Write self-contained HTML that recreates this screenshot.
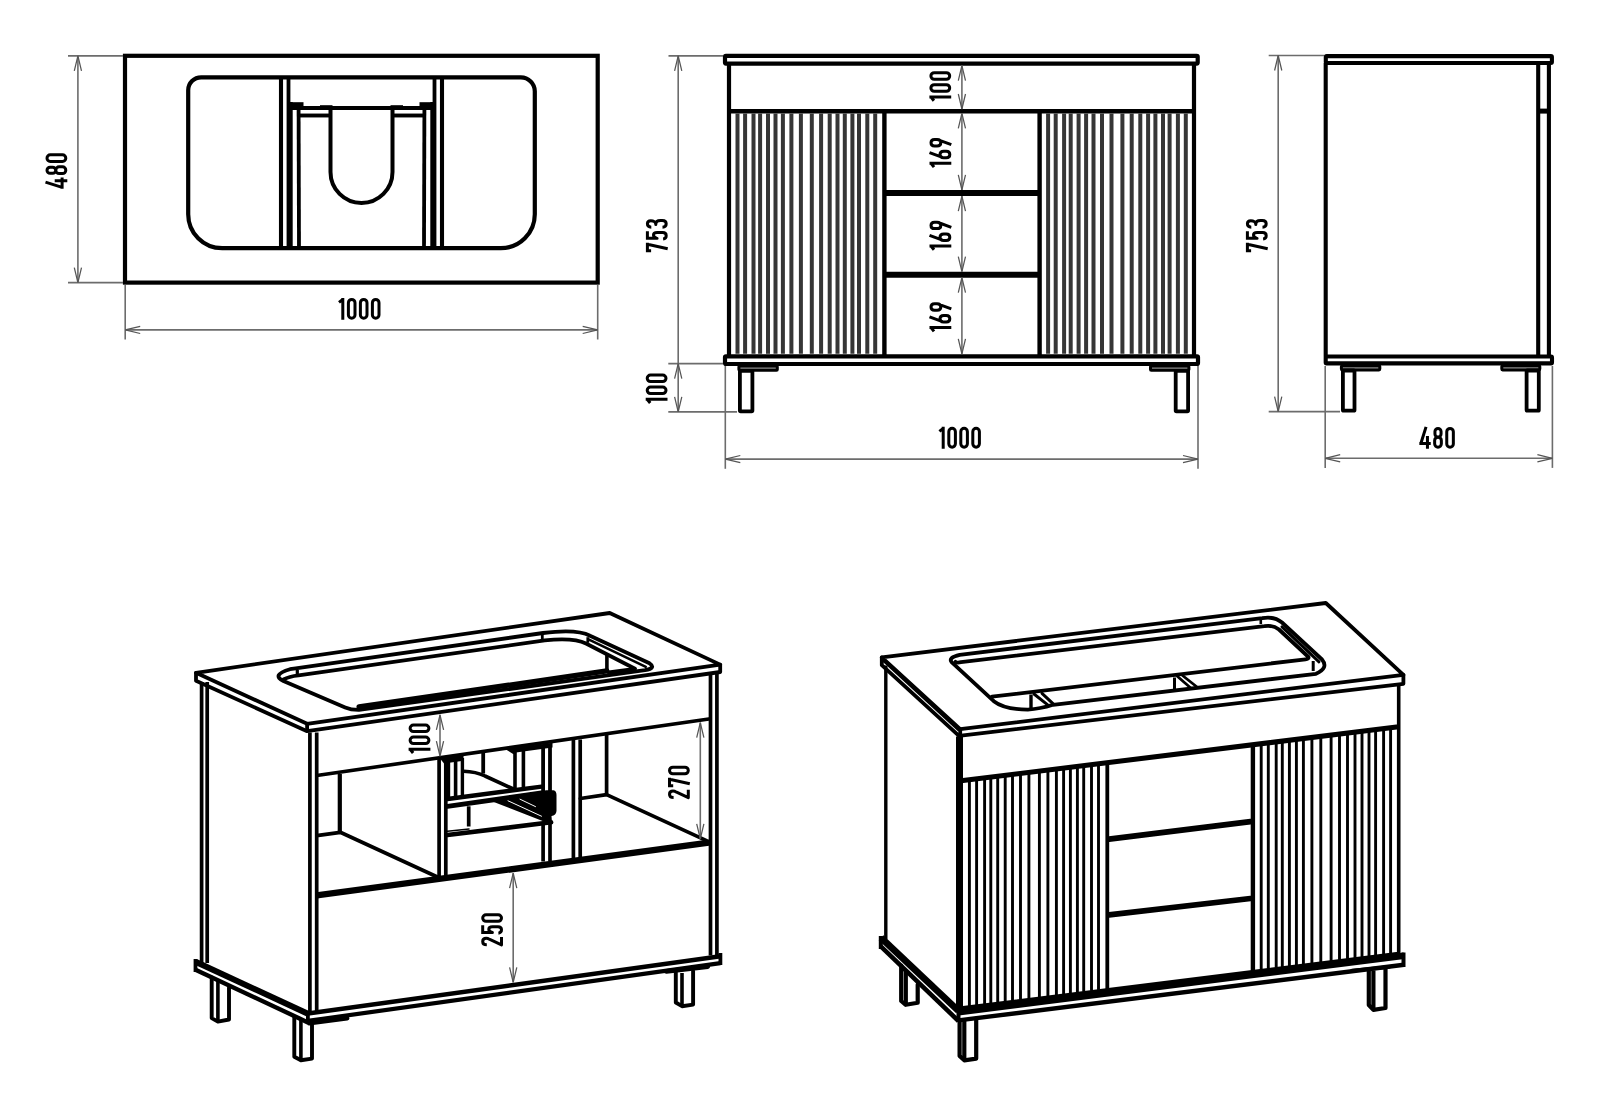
<!DOCTYPE html>
<html><head><meta charset="utf-8"><title>Vanity unit drawing</title>
<style>html,body{margin:0;padding:0;background:#fff;}body{width:1600px;height:1115px;overflow:hidden;font-family:"Liberation Sans",sans-serif;}svg{display:block;}</style></head><body>
<svg width="1600" height="1115" viewBox="0 0 1600 1115">
<rect x="0" y="0" width="1600" height="1115" fill="#fff"/>
<rect x="125" y="55.8" width="472.7" height="226.8" rx="0" fill="none" stroke="#000" stroke-width="4.2"/>
<path d="M201.2,77.3 L520.8,77.3 A14,14 0 0 1 534.8,91.3 L534.8,214.2 A34,34 0 0 1 500.8,248.2 L222.2,248.2 A34,34 0 0 1 188.2,214.2 L188.2,90.3 A13,13 0 0 1 201.2,77.3 Z" fill="none" stroke="#000" stroke-width="4.2" stroke-linejoin="round" stroke-linecap="round"/>
<line x1="281" y1="77.3" x2="281" y2="248.2" stroke="#000" stroke-width="4.1" stroke-linecap="butt"/>
<line x1="288.5" y1="77.3" x2="288.5" y2="248.2" stroke="#000" stroke-width="3.8" stroke-linecap="butt"/>
<line x1="290.2" y1="102" x2="290.2" y2="248.2" stroke="#000" stroke-width="5" stroke-linecap="butt"/>
<line x1="298.6" y1="110" x2="299" y2="248.2" stroke="#000" stroke-width="3.8" stroke-linecap="butt"/>
<line x1="299" y1="115.5" x2="330.5" y2="115.5" stroke="#000" stroke-width="3.9" stroke-linecap="butt"/>
<rect x="290" y="102.2" width="13.5" height="4.8" rx="0" fill="#000" stroke="#000" stroke-width="0"/>
<rect x="320" y="105.2" width="12.5" height="1.8" rx="0" fill="#000" stroke="#000" stroke-width="0"/>
<line x1="442" y1="77.3" x2="442" y2="248.2" stroke="#000" stroke-width="4.1" stroke-linecap="butt"/>
<line x1="434.5" y1="77.3" x2="434.5" y2="248.2" stroke="#000" stroke-width="3.8" stroke-linecap="butt"/>
<line x1="432.8" y1="102" x2="432.8" y2="248.2" stroke="#000" stroke-width="5" stroke-linecap="butt"/>
<line x1="424.4" y1="110" x2="424" y2="248.2" stroke="#000" stroke-width="3.8" stroke-linecap="butt"/>
<line x1="424" y1="115.5" x2="392.5" y2="115.5" stroke="#000" stroke-width="3.9" stroke-linecap="butt"/>
<rect x="419.5" y="102.2" width="13.5" height="4.8" rx="0" fill="#000" stroke="#000" stroke-width="0"/>
<rect x="390.5" y="105.2" width="12.5" height="1.8" rx="0" fill="#000" stroke="#000" stroke-width="0"/>
<line x1="290" y1="108" x2="433" y2="108" stroke="#000" stroke-width="4.2" stroke-linecap="butt"/>
<path d="M330.5,108 L330.5,172 A31,31 0 0 0 392.5,172 L392.5,108" fill="none" stroke="#000" stroke-width="4" stroke-linejoin="round" stroke-linecap="butt"/>
<line x1="68" y1="55.9" x2="123" y2="55.9" stroke="#6c6c6c" stroke-width="1.6"/>
<line x1="68" y1="282.6" x2="123" y2="282.6" stroke="#6c6c6c" stroke-width="1.6"/>
<line x1="77.9" y1="55.9" x2="77.9" y2="282.6" stroke="#6c6c6c" stroke-width="1.6"/>
<path d="M81.5,70.9 L77.9,55.9 L74.3,70.9" fill="none" stroke="#555" stroke-width="1.25" stroke-linejoin="miter" stroke-linecap="butt"/>
<path d="M74.3,267.6 L77.9,282.6 L81.5,267.6" fill="none" stroke="#555" stroke-width="1.25" stroke-linejoin="miter" stroke-linecap="butt"/>
<line x1="125.2" y1="285" x2="125.2" y2="339.5" stroke="#6c6c6c" stroke-width="1.6"/>
<line x1="597.7" y1="285" x2="597.7" y2="339.5" stroke="#6c6c6c" stroke-width="1.6"/>
<line x1="125.2" y1="329.9" x2="597.7" y2="329.9" stroke="#6c6c6c" stroke-width="1.6"/>
<path d="M140.2,326.3 L125.2,329.9 L140.2,333.5" fill="none" stroke="#555" stroke-width="1.25" stroke-linejoin="miter" stroke-linecap="butt"/>
<path d="M582.7,333.5 L597.7,329.9 L582.7,326.3" fill="none" stroke="#555" stroke-width="1.25" stroke-linejoin="miter" stroke-linecap="butt"/>
<g transform="translate(359,308.8) scale(1,1) translate(-21.5,-10.9)" fill="none" stroke="#000" stroke-width="3" stroke-linecap="butt" stroke-linejoin="round"><path transform="translate(0,0)" d="M1.5,4.5 L5.3,1.5 M5.3,0 L5.3,21.8"/><path transform="translate(9.4,0)" d="M1.5,4.8 A3.3,3.3 0 0 1 8.1,4.8 L8.1,17 A3.3,3.3 0 0 1 1.5,17 Z"/><path transform="translate(21.4,0)" d="M1.5,4.8 A3.3,3.3 0 0 1 8.1,4.8 L8.1,17 A3.3,3.3 0 0 1 1.5,17 Z"/><path transform="translate(33.4,0)" d="M1.5,4.8 A3.3,3.3 0 0 1 8.1,4.8 L8.1,17 A3.3,3.3 0 0 1 1.5,17 Z"/></g>
<g transform="translate(56.4,171.1) rotate(-90) scale(1,1) translate(-17.75,-10.9)" fill="none" stroke="#000" stroke-width="3" stroke-linecap="butt" stroke-linejoin="round"><path transform="translate(0,0)" d="M6.7,0 L1.5,16.6 M0,16.6 L11.4,16.6 M8.1,9.2 L8.1,21.8"/><path transform="translate(13.8,0)" d="M1.8,4.55 A3.05,3.05 0 0 1 7.9,4.55 L7.9,7.15 A3.05,3.05 0 0 1 1.8,7.15 Z M1.5,13.65 A3.35,3.35 0 0 1 8.2,13.65 L8.2,16.95 A3.35,3.35 0 0 1 1.5,16.95 Z"/><path transform="translate(25.9,0)" d="M1.5,4.8 A3.3,3.3 0 0 1 8.1,4.8 L8.1,17 A3.3,3.3 0 0 1 1.5,17 Z"/></g>
<rect x="725" y="55.8" width="472.7" height="7.8" rx="1" fill="none" stroke="#000" stroke-width="4.2"/>
<line x1="729" y1="63.6" x2="729" y2="355.8" stroke="#000" stroke-width="4.2" stroke-linecap="butt"/>
<line x1="1194" y1="63.6" x2="1194" y2="355.8" stroke="#000" stroke-width="4.2" stroke-linecap="butt"/>
<line x1="729" y1="111.2" x2="1194" y2="111.2" stroke="#000" stroke-width="4.4" stroke-linecap="butt"/>
<line x1="884.4" y1="111.2" x2="884.4" y2="355.8" stroke="#000" stroke-width="4.4" stroke-linecap="butt"/>
<line x1="1039.6" y1="111.2" x2="1039.6" y2="355.8" stroke="#000" stroke-width="4.4" stroke-linecap="butt"/>
<line x1="884.4" y1="193" x2="1039.6" y2="193" stroke="#000" stroke-width="6.2" stroke-linecap="butt"/>
<line x1="884.4" y1="274.7" x2="1039.6" y2="274.7" stroke="#000" stroke-width="6" stroke-linecap="butt"/>
<line x1="737.5" y1="113.5" x2="737.5" y2="353.8" stroke="#363636" stroke-width="4" stroke-linecap="butt"/>
<line x1="745.1" y1="113.5" x2="745.1" y2="353.8" stroke="#363636" stroke-width="4" stroke-linecap="butt"/>
<line x1="753.5" y1="113.5" x2="753.5" y2="353.8" stroke="#363636" stroke-width="4" stroke-linecap="butt"/>
<line x1="760.1" y1="113.5" x2="760.1" y2="353.8" stroke="#363636" stroke-width="4" stroke-linecap="butt"/>
<line x1="768" y1="113.5" x2="768" y2="353.8" stroke="#363636" stroke-width="4" stroke-linecap="butt"/>
<line x1="775.5" y1="113.5" x2="775.5" y2="353.8" stroke="#363636" stroke-width="4" stroke-linecap="butt"/>
<line x1="782.9" y1="113.5" x2="782.9" y2="353.8" stroke="#363636" stroke-width="4" stroke-linecap="butt"/>
<line x1="791.4" y1="113.5" x2="791.4" y2="353.8" stroke="#363636" stroke-width="4" stroke-linecap="butt"/>
<line x1="800.9" y1="113.5" x2="800.9" y2="353.8" stroke="#363636" stroke-width="4" stroke-linecap="butt"/>
<line x1="811.8" y1="113.5" x2="811.8" y2="353.8" stroke="#363636" stroke-width="4" stroke-linecap="butt"/>
<line x1="821.1" y1="113.5" x2="821.1" y2="353.8" stroke="#363636" stroke-width="4" stroke-linecap="butt"/>
<line x1="829.7" y1="113.5" x2="829.7" y2="353.8" stroke="#363636" stroke-width="4" stroke-linecap="butt"/>
<line x1="837.5" y1="113.5" x2="837.5" y2="353.8" stroke="#363636" stroke-width="4" stroke-linecap="butt"/>
<line x1="844.8" y1="113.5" x2="844.8" y2="353.8" stroke="#363636" stroke-width="4" stroke-linecap="butt"/>
<line x1="852.4" y1="113.5" x2="852.4" y2="353.8" stroke="#363636" stroke-width="4" stroke-linecap="butt"/>
<line x1="859" y1="113.5" x2="859" y2="353.8" stroke="#363636" stroke-width="4" stroke-linecap="butt"/>
<line x1="867.3" y1="113.5" x2="867.3" y2="353.8" stroke="#363636" stroke-width="4" stroke-linecap="butt"/>
<line x1="875.2" y1="113.5" x2="875.2" y2="353.8" stroke="#363636" stroke-width="4" stroke-linecap="butt"/>
<line x1="1048.1" y1="113.5" x2="1048.1" y2="353.8" stroke="#363636" stroke-width="4" stroke-linecap="butt"/>
<line x1="1055.7" y1="113.5" x2="1055.7" y2="353.8" stroke="#363636" stroke-width="4" stroke-linecap="butt"/>
<line x1="1064.1" y1="113.5" x2="1064.1" y2="353.8" stroke="#363636" stroke-width="4" stroke-linecap="butt"/>
<line x1="1070.7" y1="113.5" x2="1070.7" y2="353.8" stroke="#363636" stroke-width="4" stroke-linecap="butt"/>
<line x1="1078.6" y1="113.5" x2="1078.6" y2="353.8" stroke="#363636" stroke-width="4" stroke-linecap="butt"/>
<line x1="1086.1" y1="113.5" x2="1086.1" y2="353.8" stroke="#363636" stroke-width="4" stroke-linecap="butt"/>
<line x1="1093.5" y1="113.5" x2="1093.5" y2="353.8" stroke="#363636" stroke-width="4" stroke-linecap="butt"/>
<line x1="1102" y1="113.5" x2="1102" y2="353.8" stroke="#363636" stroke-width="4" stroke-linecap="butt"/>
<line x1="1111.5" y1="113.5" x2="1111.5" y2="353.8" stroke="#363636" stroke-width="4" stroke-linecap="butt"/>
<line x1="1122.4" y1="113.5" x2="1122.4" y2="353.8" stroke="#363636" stroke-width="4" stroke-linecap="butt"/>
<line x1="1131.7" y1="113.5" x2="1131.7" y2="353.8" stroke="#363636" stroke-width="4" stroke-linecap="butt"/>
<line x1="1140.3" y1="113.5" x2="1140.3" y2="353.8" stroke="#363636" stroke-width="4" stroke-linecap="butt"/>
<line x1="1148.1" y1="113.5" x2="1148.1" y2="353.8" stroke="#363636" stroke-width="4" stroke-linecap="butt"/>
<line x1="1155.4" y1="113.5" x2="1155.4" y2="353.8" stroke="#363636" stroke-width="4" stroke-linecap="butt"/>
<line x1="1163" y1="113.5" x2="1163" y2="353.8" stroke="#363636" stroke-width="4" stroke-linecap="butt"/>
<line x1="1169.6" y1="113.5" x2="1169.6" y2="353.8" stroke="#363636" stroke-width="4" stroke-linecap="butt"/>
<line x1="1177.9" y1="113.5" x2="1177.9" y2="353.8" stroke="#363636" stroke-width="4" stroke-linecap="butt"/>
<line x1="1185.8" y1="113.5" x2="1185.8" y2="353.8" stroke="#363636" stroke-width="4" stroke-linecap="butt"/>
<rect x="725" y="356.3" width="473" height="7.7" rx="1" fill="none" stroke="#000" stroke-width="4.2"/>
<rect x="738.9" y="365.9" width="38.4" height="4.3" rx="0.8" fill="#8a8a8a" stroke="#000" stroke-width="3"/>
<rect x="739.9" y="370.8" width="12.5" height="40.5" rx="0.8" fill="none" stroke="#000" stroke-width="3.8"/>
<rect x="1150.5" y="365.9" width="38.4" height="4.3" rx="0.8" fill="#8a8a8a" stroke="#000" stroke-width="3"/>
<rect x="1175.7" y="370.8" width="12.4" height="40.5" rx="0.8" fill="none" stroke="#000" stroke-width="3.8"/>
<line x1="668.5" y1="55.9" x2="723" y2="55.9" stroke="#6c6c6c" stroke-width="1.6"/>
<line x1="668.3" y1="363.6" x2="723" y2="363.6" stroke="#6c6c6c" stroke-width="1.6"/>
<line x1="668.3" y1="411.9" x2="737" y2="411.9" stroke="#6c6c6c" stroke-width="1.6"/>
<line x1="678.2" y1="55.9" x2="678.2" y2="363.6" stroke="#6c6c6c" stroke-width="1.6"/>
<path d="M681.8,70.9 L678.2,55.9 L674.6,70.9" fill="none" stroke="#555" stroke-width="1.25" stroke-linejoin="miter" stroke-linecap="butt"/>
<line x1="678.2" y1="363.6" x2="678.2" y2="411.9" stroke="#6c6c6c" stroke-width="1.6"/>
<path d="M681.8,378.6 L678.2,363.6 L674.6,378.6" fill="none" stroke="#555" stroke-width="1.25" stroke-linejoin="miter" stroke-linecap="butt"/>
<path d="M674.6,396.9 L678.2,411.9 L681.8,396.9" fill="none" stroke="#555" stroke-width="1.25" stroke-linejoin="miter" stroke-linecap="butt"/>
<line x1="725.3" y1="366" x2="725.3" y2="468.8" stroke="#6c6c6c" stroke-width="1.6"/>
<line x1="1198" y1="366" x2="1198" y2="468.8" stroke="#6c6c6c" stroke-width="1.6"/>
<line x1="725.3" y1="459.1" x2="1198" y2="459.1" stroke="#6c6c6c" stroke-width="1.6"/>
<path d="M740.3,455.5 L725.3,459.1 L740.3,462.7" fill="none" stroke="#555" stroke-width="1.25" stroke-linejoin="miter" stroke-linecap="butt"/>
<path d="M1183,462.7 L1198,459.1 L1183,455.5" fill="none" stroke="#555" stroke-width="1.25" stroke-linejoin="miter" stroke-linecap="butt"/>
<line x1="961.9" y1="65.6" x2="961.9" y2="109" stroke="#6c6c6c" stroke-width="1.6"/>
<path d="M965.5,80.6 L961.9,65.6 L958.3,80.6" fill="none" stroke="#555" stroke-width="1.25" stroke-linejoin="miter" stroke-linecap="butt"/>
<path d="M958.3,94 L961.9,109 L965.5,94" fill="none" stroke="#555" stroke-width="1.25" stroke-linejoin="miter" stroke-linecap="butt"/>
<line x1="961.9" y1="113.4" x2="961.9" y2="189.9" stroke="#6c6c6c" stroke-width="1.6"/>
<path d="M965.5,128.4 L961.9,113.4 L958.3,128.4" fill="none" stroke="#555" stroke-width="1.25" stroke-linejoin="miter" stroke-linecap="butt"/>
<path d="M958.3,174.9 L961.9,189.9 L965.5,174.9" fill="none" stroke="#555" stroke-width="1.25" stroke-linejoin="miter" stroke-linecap="butt"/>
<line x1="961.9" y1="196.1" x2="961.9" y2="271.7" stroke="#6c6c6c" stroke-width="1.6"/>
<path d="M965.5,211.1 L961.9,196.1 L958.3,211.1" fill="none" stroke="#555" stroke-width="1.25" stroke-linejoin="miter" stroke-linecap="butt"/>
<path d="M958.3,256.7 L961.9,271.7 L965.5,256.7" fill="none" stroke="#555" stroke-width="1.25" stroke-linejoin="miter" stroke-linecap="butt"/>
<line x1="961.9" y1="277.7" x2="961.9" y2="353.8" stroke="#6c6c6c" stroke-width="1.6"/>
<path d="M965.5,292.7 L961.9,277.7 L958.3,292.7" fill="none" stroke="#555" stroke-width="1.25" stroke-linejoin="miter" stroke-linecap="butt"/>
<path d="M958.3,338.8 L961.9,353.8 L965.5,338.8" fill="none" stroke="#555" stroke-width="1.25" stroke-linejoin="miter" stroke-linecap="butt"/>
<g transform="translate(656.8,235.7) rotate(-90) scale(1,1) translate(-16.65,-10.9)" fill="none" stroke="#000" stroke-width="3" stroke-linecap="butt" stroke-linejoin="round"><path transform="translate(0,0)" d="M0,1.5 L9.6,1.5 M1.5,0 L1.5,5.2 M8.1,1.5 L3.6,21.8"/><path transform="translate(12,0)" d="M9.2,1.5 L2.0,1.5 M2.0,0 L2.0,11.2 C2.6,8.8 3.9,7.6 5.3,7.6 C7.1,7.6 7.8,9.1 7.8,11.3 L7.8,16.8 C7.8,19.0 6.6,20.3 4.7,20.3 C2.8,20.3 1.6,19.2 1.4,17.2"/><path transform="translate(23.7,0)" d="M1.5,5.4 C1.5,2.9 3.0,1.5 4.8,1.5 C6.7,1.5 7.9,2.8 7.9,4.9 C7.9,7.6 6.5,9.9 4.2,9.9 C6.8,9.9 8.1,11.8 8.1,14.6 L8.1,16.4 C8.1,18.9 6.7,20.3 4.8,20.3 C2.8,20.3 1.5,19.0 1.4,16.6"/></g>
<g transform="translate(656.6,389) rotate(-90) scale(1,1) translate(-15.5,-10.9)" fill="none" stroke="#000" stroke-width="3" stroke-linecap="butt" stroke-linejoin="round"><path transform="translate(0,0)" d="M1.5,4.5 L5.3,1.5 M5.3,0 L5.3,21.8"/><path transform="translate(9.4,0)" d="M1.5,4.8 A3.3,3.3 0 0 1 8.1,4.8 L8.1,17 A3.3,3.3 0 0 1 1.5,17 Z"/><path transform="translate(21.4,0)" d="M1.5,4.8 A3.3,3.3 0 0 1 8.1,4.8 L8.1,17 A3.3,3.3 0 0 1 1.5,17 Z"/></g>
<g transform="translate(959.4,437.75) scale(1,1) translate(-21.5,-10.9)" fill="none" stroke="#000" stroke-width="3" stroke-linecap="butt" stroke-linejoin="round"><path transform="translate(0,0)" d="M1.5,4.5 L5.3,1.5 M5.3,0 L5.3,21.8"/><path transform="translate(9.4,0)" d="M1.5,4.8 A3.3,3.3 0 0 1 8.1,4.8 L8.1,17 A3.3,3.3 0 0 1 1.5,17 Z"/><path transform="translate(21.4,0)" d="M1.5,4.8 A3.3,3.3 0 0 1 8.1,4.8 L8.1,17 A3.3,3.3 0 0 1 1.5,17 Z"/><path transform="translate(33.4,0)" d="M1.5,4.8 A3.3,3.3 0 0 1 8.1,4.8 L8.1,17 A3.3,3.3 0 0 1 1.5,17 Z"/></g>
<g transform="translate(940.3,86.7) rotate(-90) scale(1,1) translate(-15.5,-10.9)" fill="none" stroke="#000" stroke-width="3" stroke-linecap="butt" stroke-linejoin="round"><path transform="translate(0,0)" d="M1.5,4.5 L5.3,1.5 M5.3,0 L5.3,21.8"/><path transform="translate(9.4,0)" d="M1.5,4.8 A3.3,3.3 0 0 1 8.1,4.8 L8.1,17 A3.3,3.3 0 0 1 1.5,17 Z"/><path transform="translate(21.4,0)" d="M1.5,4.8 A3.3,3.3 0 0 1 8.1,4.8 L8.1,17 A3.3,3.3 0 0 1 1.5,17 Z"/></g>
<g transform="translate(940.4,153.3) rotate(-90) scale(1,1) translate(-15.3,-10.9)" fill="none" stroke="#000" stroke-width="3" stroke-linecap="butt" stroke-linejoin="round"><path transform="translate(0,0)" d="M1.5,4.5 L5.3,1.5 M5.3,0 L5.3,21.8"/><path transform="translate(9.4,0)" d="M1.5,14.2 C1.5,11.9 2.9,10.5 4.7,10.5 C6.5,10.5 7.9,11.9 7.9,14.2 L7.9,16.8 C7.9,19.0 6.5,20.3 4.7,20.3 C2.9,20.3 1.5,19.0 1.5,16.8 Z M1.8,13.0 L6.6,0"/><path transform="translate(21.2,0)" d="M7.9,7.6 C7.9,9.9 6.5,11.3 4.7,11.3 C2.9,11.3 1.5,9.9 1.5,7.6 L1.5,5.0 C1.5,2.8 2.9,1.5 4.7,1.5 C6.5,1.5 7.9,2.8 7.9,5.0 Z M7.6,8.8 L2.8,21.8"/></g>
<g transform="translate(940.4,236) rotate(-90) scale(1,1) translate(-15.3,-10.9)" fill="none" stroke="#000" stroke-width="3" stroke-linecap="butt" stroke-linejoin="round"><path transform="translate(0,0)" d="M1.5,4.5 L5.3,1.5 M5.3,0 L5.3,21.8"/><path transform="translate(9.4,0)" d="M1.5,14.2 C1.5,11.9 2.9,10.5 4.7,10.5 C6.5,10.5 7.9,11.9 7.9,14.2 L7.9,16.8 C7.9,19.0 6.5,20.3 4.7,20.3 C2.9,20.3 1.5,19.0 1.5,16.8 Z M1.8,13.0 L6.6,0"/><path transform="translate(21.2,0)" d="M7.9,7.6 C7.9,9.9 6.5,11.3 4.7,11.3 C2.9,11.3 1.5,9.9 1.5,7.6 L1.5,5.0 C1.5,2.8 2.9,1.5 4.7,1.5 C6.5,1.5 7.9,2.8 7.9,5.0 Z M7.6,8.8 L2.8,21.8"/></g>
<g transform="translate(940.4,317.6) rotate(-90) scale(1,1) translate(-15.3,-10.9)" fill="none" stroke="#000" stroke-width="3" stroke-linecap="butt" stroke-linejoin="round"><path transform="translate(0,0)" d="M1.5,4.5 L5.3,1.5 M5.3,0 L5.3,21.8"/><path transform="translate(9.4,0)" d="M1.5,14.2 C1.5,11.9 2.9,10.5 4.7,10.5 C6.5,10.5 7.9,11.9 7.9,14.2 L7.9,16.8 C7.9,19.0 6.5,20.3 4.7,20.3 C2.9,20.3 1.5,19.0 1.5,16.8 Z M1.8,13.0 L6.6,0"/><path transform="translate(21.2,0)" d="M7.9,7.6 C7.9,9.9 6.5,11.3 4.7,11.3 C2.9,11.3 1.5,9.9 1.5,7.6 L1.5,5.0 C1.5,2.8 2.9,1.5 4.7,1.5 C6.5,1.5 7.9,2.8 7.9,5.0 Z M7.6,8.8 L2.8,21.8"/></g>
<rect x="1325.8" y="56.1" width="226.1" height="6.9" rx="1" fill="none" stroke="#000" stroke-width="4.1"/>
<line x1="1325.7" y1="63" x2="1325.7" y2="356.5" stroke="#000" stroke-width="4.1" stroke-linecap="butt"/>
<line x1="1538.2" y1="63" x2="1538.2" y2="356.5" stroke="#000" stroke-width="4.1" stroke-linecap="butt"/>
<line x1="1548.9" y1="63" x2="1548.9" y2="356.5" stroke="#000" stroke-width="4.1" stroke-linecap="butt"/>
<line x1="1538.2" y1="111.1" x2="1548.9" y2="111.1" stroke="#000" stroke-width="5" stroke-linecap="butt"/>
<rect x="1325.7" y="356.5" width="226.3" height="6.9" rx="1" fill="none" stroke="#000" stroke-width="4.1"/>
<rect x="1341.4" y="365.8" width="38.4" height="4.1" rx="0.8" fill="#8a8a8a" stroke="#000" stroke-width="3"/>
<rect x="1342.9" y="370.5" width="11.6" height="40.2" rx="0.8" fill="none" stroke="#000" stroke-width="3.8"/>
<rect x="1501.8" y="365.8" width="38" height="4.1" rx="0.8" fill="#8a8a8a" stroke="#000" stroke-width="3"/>
<rect x="1526.6" y="370.5" width="12.2" height="40.2" rx="0.8" fill="none" stroke="#000" stroke-width="3.8"/>
<line x1="1268.7" y1="55.5" x2="1324" y2="55.5" stroke="#6c6c6c" stroke-width="1.6"/>
<line x1="1268.7" y1="411.6" x2="1340" y2="411.6" stroke="#6c6c6c" stroke-width="1.6"/>
<line x1="1278.2" y1="55.5" x2="1278.2" y2="411.6" stroke="#6c6c6c" stroke-width="1.6"/>
<path d="M1281.8,70.5 L1278.2,55.5 L1274.6,70.5" fill="none" stroke="#555" stroke-width="1.25" stroke-linejoin="miter" stroke-linecap="butt"/>
<path d="M1274.6,396.6 L1278.2,411.6 L1281.8,396.6" fill="none" stroke="#555" stroke-width="1.25" stroke-linejoin="miter" stroke-linecap="butt"/>
<line x1="1325.2" y1="366" x2="1325.2" y2="467.9" stroke="#6c6c6c" stroke-width="1.6"/>
<line x1="1552.4" y1="366" x2="1552.4" y2="467.9" stroke="#6c6c6c" stroke-width="1.6"/>
<line x1="1325.2" y1="458.3" x2="1552.4" y2="458.3" stroke="#6c6c6c" stroke-width="1.6"/>
<path d="M1340.2,454.7 L1325.2,458.3 L1340.2,461.9" fill="none" stroke="#555" stroke-width="1.25" stroke-linejoin="miter" stroke-linecap="butt"/>
<path d="M1537.4,461.9 L1552.4,458.3 L1537.4,454.7" fill="none" stroke="#555" stroke-width="1.25" stroke-linejoin="miter" stroke-linecap="butt"/>
<g transform="translate(1256.8,235.7) rotate(-90) scale(1,1) translate(-16.65,-10.9)" fill="none" stroke="#000" stroke-width="3" stroke-linecap="butt" stroke-linejoin="round"><path transform="translate(0,0)" d="M0,1.5 L9.6,1.5 M1.5,0 L1.5,5.2 M8.1,1.5 L3.6,21.8"/><path transform="translate(12,0)" d="M9.2,1.5 L2.0,1.5 M2.0,0 L2.0,11.2 C2.6,8.8 3.9,7.6 5.3,7.6 C7.1,7.6 7.8,9.1 7.8,11.3 L7.8,16.8 C7.8,19.0 6.6,20.3 4.7,20.3 C2.8,20.3 1.6,19.2 1.4,17.2"/><path transform="translate(23.7,0)" d="M1.5,5.4 C1.5,2.9 3.0,1.5 4.8,1.5 C6.7,1.5 7.9,2.8 7.9,4.9 C7.9,7.6 6.5,9.9 4.2,9.9 C6.8,9.9 8.1,11.8 8.1,14.6 L8.1,16.4 C8.1,18.9 6.7,20.3 4.8,20.3 C2.8,20.3 1.5,19.0 1.4,16.6"/></g>
<g transform="translate(1437.1,437.8) scale(1,1) translate(-17.75,-10.9)" fill="none" stroke="#000" stroke-width="3" stroke-linecap="butt" stroke-linejoin="round"><path transform="translate(0,0)" d="M6.7,0 L1.5,16.6 M0,16.6 L11.4,16.6 M8.1,9.2 L8.1,21.8"/><path transform="translate(13.8,0)" d="M1.8,4.55 A3.05,3.05 0 0 1 7.9,4.55 L7.9,7.15 A3.05,3.05 0 0 1 1.8,7.15 Z M1.5,13.65 A3.35,3.35 0 0 1 8.2,13.65 L8.2,16.95 A3.35,3.35 0 0 1 1.5,16.95 Z"/><path transform="translate(25.9,0)" d="M1.5,4.8 A3.3,3.3 0 0 1 8.1,4.8 L8.1,17 A3.3,3.3 0 0 1 1.5,17 Z"/></g>
<path d="M196,672.8 L609.7,613 L720.2,664.6 L307.1,723.8 Z" fill="none" stroke="#000" stroke-width="3.8" stroke-linejoin="round" stroke-linecap="round"/>
<path d="M196,672.8 L196,680.8 L307.1,731.2 L720.2,672 L720.2,664.6" fill="none" stroke="#000" stroke-width="3.8" stroke-linejoin="round" stroke-linecap="round"/>
<line x1="307.1" y1="723.8" x2="307.1" y2="731.2" stroke="#000" stroke-width="3.8" stroke-linecap="butt"/>
<path d="M295.7,668.4 L543.1,633.0 Q577,628.8 590,635.7 L649.5,663.2 Q656.5,668 645,670.2 L359,709.9 Q351,710 345.2,707.5 L283.4,681.0 Q271,675 290,669.2 Z" fill="none" stroke="#000" stroke-width="3.8" stroke-linejoin="round" stroke-linecap="round"/>
<path d="M589,639.6 L645.8,666.8" fill="none" stroke="#000" stroke-width="2.6" stroke-linejoin="round" stroke-linecap="round"/>
<path d="M283.5,679.5 Q289,676.3 298.5,675.3 L544.7,640.4 Q574,637.5 586,643.5 L635,668.8 L608.8,672.4" fill="none" stroke="#000" stroke-width="3.8" stroke-linejoin="round" stroke-linecap="round"/>
<line x1="297.3" y1="670" x2="297.3" y2="675" stroke="#000" stroke-width="3.2" stroke-linecap="butt"/>
<path d="M606.9,670.9 L359,706.9" fill="none" stroke="#000" stroke-width="5.2" stroke-linejoin="round" stroke-linecap="round"/>
<line x1="542.3" y1="632.8" x2="542.3" y2="639.8" stroke="#000" stroke-width="2.8" stroke-linecap="butt"/>
<line x1="587.8" y1="637.2" x2="587.8" y2="642.8" stroke="#000" stroke-width="2.8" stroke-linecap="butt"/>
<line x1="606.9" y1="653.8" x2="606.9" y2="672.4" stroke="#000" stroke-width="3.6" stroke-linecap="butt"/>
<line x1="201.6" y1="682" x2="201.6" y2="963" stroke="#000" stroke-width="3.7" stroke-linecap="butt"/>
<line x1="207.2" y1="682" x2="207.2" y2="963" stroke="#000" stroke-width="3.7" stroke-linecap="butt"/>
<line x1="309.9" y1="732.5" x2="309.9" y2="1013" stroke="#000" stroke-width="3.7" stroke-linecap="butt"/>
<line x1="316.7" y1="732.5" x2="316.7" y2="1012" stroke="#000" stroke-width="3.7" stroke-linecap="butt"/>
<line x1="710.5" y1="674" x2="710.5" y2="955.5" stroke="#000" stroke-width="3.7" stroke-linecap="butt"/>
<line x1="716.9" y1="674" x2="716.9" y2="955.5" stroke="#000" stroke-width="3.7" stroke-linecap="butt"/>
<path d="M318.5,775.2 L708.8,719" fill="none" stroke="#000" stroke-width="3.6" stroke-linejoin="round" stroke-linecap="round"/>
<path d="M318.5,895.2 L708.8,842.6" fill="none" stroke="#000" stroke-width="6.4" stroke-linejoin="round" stroke-linecap="round"/>
<line x1="339.8" y1="774" x2="339.8" y2="832.5" stroke="#000" stroke-width="4.2" stroke-linecap="butt"/>
<path d="M318.5,835.4 L340.3,832.3 L438.5,877.5" fill="none" stroke="#000" stroke-width="3.7" stroke-linejoin="round" stroke-linecap="round"/>
<line x1="439.1" y1="758" x2="439.1" y2="878" stroke="#000" stroke-width="3.7" stroke-linecap="butt"/>
<line x1="445.8" y1="758" x2="445.8" y2="877" stroke="#000" stroke-width="3.7" stroke-linecap="butt"/>
<line x1="573.4" y1="740" x2="573.4" y2="858" stroke="#000" stroke-width="3.7" stroke-linecap="butt"/>
<line x1="580.2" y1="739.5" x2="580.2" y2="857.5" stroke="#000" stroke-width="3.7" stroke-linecap="butt"/>
<line x1="606.6" y1="735" x2="606.6" y2="795.2" stroke="#000" stroke-width="3.7" stroke-linecap="butt"/>
<path d="M580.3,798.5 L606.6,794.6 L706.5,840.6" fill="none" stroke="#000" stroke-width="3.7" stroke-linejoin="round" stroke-linecap="round"/>
<path d="M440,758.5 L463.5,755.2 L463.5,760.8 L444,763.5 Z" fill="#000"/>
<line x1="448.4" y1="762" x2="448.4" y2="801" stroke="#000" stroke-width="3.6" stroke-linecap="butt"/>
<line x1="455.6" y1="761" x2="455.6" y2="800" stroke="#000" stroke-width="3.6" stroke-linecap="butt"/>
<line x1="462.4" y1="758" x2="462.4" y2="798" stroke="#000" stroke-width="3.4" stroke-linecap="butt"/>
<path d="M463.6,771.2 Q476,771.5 485,776 L513.4,789" fill="none" stroke="#000" stroke-width="3.6" stroke-linejoin="round" stroke-linecap="round"/>
<line x1="483.2" y1="751.5" x2="483.2" y2="773.6" stroke="#000" stroke-width="3.8" stroke-linecap="butt"/>
<path d="M505.5,749.2 L552.5,742.8 L552.5,747.5 L516,752.6 L513.5,754.2 Z" fill="#000"/>
<line x1="515" y1="750" x2="515" y2="788" stroke="#000" stroke-width="3.6" stroke-linecap="butt"/>
<line x1="523.4" y1="750" x2="523.4" y2="787" stroke="#000" stroke-width="3.6" stroke-linecap="butt"/>
<line x1="543.1" y1="746" x2="543.1" y2="798.5" stroke="#000" stroke-width="3.8" stroke-linecap="butt"/>
<line x1="550" y1="744.5" x2="550" y2="798" stroke="#000" stroke-width="3.8" stroke-linecap="butt"/>
<path d="M447.5,799 L541.5,786.6" fill="none" stroke="#000" stroke-width="4.4" stroke-linejoin="round" stroke-linecap="round"/>
<path d="M447.5,806.4 L541.5,793" fill="none" stroke="#000" stroke-width="4.8" stroke-linejoin="round" stroke-linecap="round"/>
<path d="M492.5,801.5 L541.5,794.0 L545.5,790.2 L553.5,790.2 Q556.5,791 556.5,795 L556.5,811 Q556,815.5 551.5,816 L552,822.5 L549,823.6 Z" fill="#000"/>
<path d="M508,800.8 L541.5,816.2" fill="none" stroke="#fff" stroke-width="1" stroke-linejoin="round" stroke-linecap="round"/>
<path d="M520,799.2 L535.5,806.6" fill="none" stroke="#fff" stroke-width="1" stroke-linejoin="round" stroke-linecap="round"/>
<line x1="468.7" y1="806.3" x2="468.7" y2="826.5" stroke="#000" stroke-width="3.7" stroke-linecap="butt"/>
<path d="M447.5,835 L551.1,822.3" fill="none" stroke="#000" stroke-width="4.6" stroke-linejoin="round" stroke-linecap="round"/>
<path d="M447.5,831.3 L469,829" fill="none" stroke="#000" stroke-width="1.6" stroke-linejoin="round" stroke-linecap="round"/>
<line x1="543.1" y1="823.8" x2="543.1" y2="861.5" stroke="#000" stroke-width="3.7" stroke-linecap="butt"/>
<line x1="550" y1="823.5" x2="550" y2="861" stroke="#000" stroke-width="3.7" stroke-linecap="butt"/>
<path d="M195.5,961.7 L307.9,1013.8" fill="none" stroke="#000" stroke-width="6" stroke-linejoin="round" stroke-linecap="butt"/>
<path d="M195.5,969.8 L307.9,1022.4" fill="none" stroke="#000" stroke-width="4.4" stroke-linejoin="round" stroke-linecap="butt"/>
<path d="M307.9,1013.5 L720.4,956.3" fill="none" stroke="#000" stroke-width="4.6" stroke-linejoin="round" stroke-linecap="butt"/>
<path d="M307.9,1020.9 L720.4,963.2" fill="none" stroke="#000" stroke-width="4.2" stroke-linejoin="round" stroke-linecap="butt"/>
<line x1="195.5" y1="959" x2="195.5" y2="972" stroke="#000" stroke-width="3.8" stroke-linecap="butt"/>
<line x1="307.9" y1="1011" x2="307.9" y2="1024" stroke="#000" stroke-width="3.8" stroke-linecap="butt"/>
<line x1="720.4" y1="953" x2="720.4" y2="965" stroke="#000" stroke-width="3.8" stroke-linecap="butt"/>
<path d="M309,1023.3 L347.2,1018.4" fill="none" stroke="#000" stroke-width="4.4" stroke-linejoin="round" stroke-linecap="round"/>
<path d="M666.4,971.4 L707.8,966.6" fill="none" stroke="#000" stroke-width="4.6" stroke-linejoin="round" stroke-linecap="round"/>
<path d="M211.7,977.5 L211.7,1018.1 L217.9,1021.6 L229,1019.5 L229,987.5" fill="none" stroke="#000" stroke-width="3.9" stroke-linejoin="round" stroke-linecap="round"/>
<line x1="217.9" y1="980" x2="217.9" y2="1021.6" stroke="#000" stroke-width="3.6" stroke-linecap="butt"/>
<path d="M294.3,1017 L294.3,1056.8 L300.9,1060.3 L312,1058.6 L312,1024.5" fill="none" stroke="#000" stroke-width="3.9" stroke-linejoin="round" stroke-linecap="round"/>
<line x1="300.9" y1="1019.5" x2="300.9" y2="1060.3" stroke="#000" stroke-width="3.6" stroke-linecap="butt"/>
<path d="M675.8,972 L675.8,1002.5 L682,1006.2 L693.1,1004.6 L693.1,971" fill="none" stroke="#000" stroke-width="3.9" stroke-linejoin="round" stroke-linecap="round"/>
<line x1="682" y1="973" x2="682" y2="1006.2" stroke="#000" stroke-width="3.6" stroke-linecap="butt"/>
<line x1="440" y1="714.8" x2="440" y2="756.2" stroke="#6c6c6c" stroke-width="1.6"/>
<path d="M443.6,729.8 L440,714.8 L436.4,729.8" fill="none" stroke="#555" stroke-width="1.25" stroke-linejoin="miter" stroke-linecap="butt"/>
<path d="M436.4,741.2 L440,756.2 L443.6,741.2" fill="none" stroke="#555" stroke-width="1.25" stroke-linejoin="miter" stroke-linecap="butt"/>
<line x1="700.3" y1="722.6" x2="700.3" y2="838.8" stroke="#6c6c6c" stroke-width="1.6"/>
<path d="M703.9,737.6 L700.3,722.6 L696.7,737.6" fill="none" stroke="#555" stroke-width="1.25" stroke-linejoin="miter" stroke-linecap="butt"/>
<path d="M696.7,823.8 L700.3,838.8 L703.9,823.8" fill="none" stroke="#555" stroke-width="1.25" stroke-linejoin="miter" stroke-linecap="butt"/>
<line x1="513.2" y1="873.2" x2="513.2" y2="982.4" stroke="#6c6c6c" stroke-width="1.6"/>
<path d="M516.8,888.2 L513.2,873.2 L509.6,888.2" fill="none" stroke="#555" stroke-width="1.25" stroke-linejoin="miter" stroke-linecap="butt"/>
<path d="M509.6,967.4 L513.2,982.4 L516.8,967.4" fill="none" stroke="#555" stroke-width="1.25" stroke-linejoin="miter" stroke-linecap="butt"/>
<g transform="translate(419.5,739) rotate(-90) scale(1,1) translate(-15.5,-10.9)" fill="none" stroke="#000" stroke-width="3" stroke-linecap="butt" stroke-linejoin="round"><path transform="translate(0,0)" d="M1.5,4.5 L5.3,1.5 M5.3,0 L5.3,21.8"/><path transform="translate(9.4,0)" d="M1.5,4.8 A3.3,3.3 0 0 1 8.1,4.8 L8.1,17 A3.3,3.3 0 0 1 1.5,17 Z"/><path transform="translate(21.4,0)" d="M1.5,4.8 A3.3,3.3 0 0 1 8.1,4.8 L8.1,17 A3.3,3.3 0 0 1 1.5,17 Z"/></g>
<g transform="translate(678.9,782.4) rotate(-90) scale(1,1) translate(-16.7,-10.9)" fill="none" stroke="#000" stroke-width="3" stroke-linecap="butt" stroke-linejoin="round"><path transform="translate(0,0)" d="M1.5,5.6 C1.5,3.0 3.0,1.5 4.9,1.5 C6.8,1.5 8.0,2.9 8.0,5.0 C8.0,6.4 7.5,7.5 6.9,8.6 L1.5,20.3 L9.4,20.3"/><path transform="translate(11.8,0)" d="M0,1.5 L9.6,1.5 M1.5,0 L1.5,5.2 M8.1,1.5 L3.6,21.8"/><path transform="translate(23.8,0)" d="M1.5,4.8 A3.3,3.3 0 0 1 8.1,4.8 L8.1,17 A3.3,3.3 0 0 1 1.5,17 Z"/></g>
<g transform="translate(492.1,929.8) rotate(-90) scale(1,1) translate(-16.55,-10.9)" fill="none" stroke="#000" stroke-width="3" stroke-linecap="butt" stroke-linejoin="round"><path transform="translate(0,0)" d="M1.5,5.6 C1.5,3.0 3.0,1.5 4.9,1.5 C6.8,1.5 8.0,2.9 8.0,5.0 C8.0,6.4 7.5,7.5 6.9,8.6 L1.5,20.3 L9.4,20.3"/><path transform="translate(11.8,0)" d="M9.2,1.5 L2.0,1.5 M2.0,0 L2.0,11.2 C2.6,8.8 3.9,7.6 5.3,7.6 C7.1,7.6 7.8,9.1 7.8,11.3 L7.8,16.8 C7.8,19.0 6.6,20.3 4.7,20.3 C2.8,20.3 1.6,19.2 1.4,17.2"/><path transform="translate(23.5,0)" d="M1.5,4.8 A3.3,3.3 0 0 1 8.1,4.8 L8.1,17 A3.3,3.3 0 0 1 1.5,17 Z"/></g>
<path d="M881.8,657.4 L1325.8,603 L1403.4,674.8 L960.2,729.2 Z" fill="none" stroke="#000" stroke-width="3.8" stroke-linejoin="round" stroke-linecap="round"/>
<path d="M881.8,657.4 L881.8,665.2 L959,735.8 L1403.4,683.8 L1403.4,674.8" fill="none" stroke="#000" stroke-width="3.8" stroke-linejoin="round" stroke-linecap="round"/>
<path d="M882,658.6 L959.5,730" fill="none" stroke="#000" stroke-width="3.8" stroke-linejoin="round" stroke-linecap="butt"/>
<line x1="960.2" y1="729" x2="960.2" y2="736.4" stroke="#000" stroke-width="3.8" stroke-linecap="butt"/>
<path d="M959.7,654.8 L1262.3,618.2 Q1274,616 1282,622.5 L1322,659.5 Q1329,668 1316,673.8 L1053,704.8 Q1040,709 1027.8,709.6 Q1004,709.3 993.8,701.2 L951.6,662.2 Q948,657.5 959.7,654.8 Z" fill="none" stroke="#000" stroke-width="3.8" stroke-linejoin="round" stroke-linecap="round"/>
<path d="M955.5,661.8 Q957,663.2 961,662.2 L1264.4,626.2 Q1273,624.8 1279,629.5 L1308.5,657.0 Q1309,659 1305.5,659.3 L992,696.7" fill="none" stroke="#000" stroke-width="3.8" stroke-linejoin="round" stroke-linecap="round"/>
<path d="M1282,626.8 L1319,661.8" fill="none" stroke="#000" stroke-width="3" stroke-linejoin="round" stroke-linecap="round"/>
<line x1="1313.2" y1="661" x2="1313.2" y2="671" stroke="#000" stroke-width="3" stroke-linecap="butt"/>
<line x1="1260.8" y1="619.4" x2="1260.8" y2="624" stroke="#000" stroke-width="2.6" stroke-linecap="butt"/>
<line x1="1031" y1="694.5" x2="1031" y2="708" stroke="#000" stroke-width="3.4" stroke-linecap="butt"/>
<path d="M1034,694 L1048,705.2" fill="none" stroke="#000" stroke-width="3" stroke-linejoin="round" stroke-linecap="round"/>
<path d="M1042,693.3 L1053.5,704.2" fill="none" stroke="#000" stroke-width="3" stroke-linejoin="round" stroke-linecap="round"/>
<line x1="1174.5" y1="677.5" x2="1174.5" y2="689.5" stroke="#000" stroke-width="3" stroke-linecap="butt"/>
<path d="M1177,676 L1191,688.2" fill="none" stroke="#000" stroke-width="2.8" stroke-linejoin="round" stroke-linecap="round"/>
<path d="M1182.5,675.5 L1197,687" fill="none" stroke="#000" stroke-width="2.8" stroke-linejoin="round" stroke-linecap="round"/>
<line x1="885.8" y1="665.5" x2="885.8" y2="939" stroke="#000" stroke-width="3.4" stroke-linecap="butt"/>
<line x1="959.5" y1="736.4" x2="959.5" y2="1009" stroke="#000" stroke-width="7" stroke-linecap="butt"/>
<line x1="1398.7" y1="684" x2="1398.7" y2="955" stroke="#000" stroke-width="3.6" stroke-linecap="butt"/>
<path d="M963,780.5 L1396.5,727" fill="none" stroke="#000" stroke-width="5" stroke-linejoin="round" stroke-linecap="round"/>
<path d="M963,1008.3 L1396.5,954.3" fill="none" stroke="#000" stroke-width="4.6" stroke-linejoin="round" stroke-linecap="round"/>
<line x1="1107.3" y1="762.69" x2="1107.3" y2="990.32" stroke="#000" stroke-width="3.8" stroke-linecap="butt"/>
<line x1="1252.9" y1="744.72" x2="1252.9" y2="972.19" stroke="#000" stroke-width="4.4" stroke-linecap="butt"/>
<path d="M1109.1,839.1 L1250.4,821.6" fill="none" stroke="#000" stroke-width="5.6" stroke-linejoin="round" stroke-linecap="round"/>
<path d="M1109.1,914.9 L1250.4,898.5" fill="none" stroke="#000" stroke-width="5.6" stroke-linejoin="round" stroke-linecap="round"/>
<line x1="969.4" y1="781.21" x2="969.4" y2="1006" stroke="#000" stroke-width="2.9" stroke-linecap="butt"/>
<line x1="976.6" y1="780.32" x2="976.6" y2="1005.11" stroke="#000" stroke-width="2.9" stroke-linecap="butt"/>
<line x1="984.6" y1="779.33" x2="984.6" y2="1004.11" stroke="#000" stroke-width="2.9" stroke-linecap="butt"/>
<line x1="990.8" y1="778.57" x2="990.8" y2="1003.34" stroke="#000" stroke-width="2.9" stroke-linecap="butt"/>
<line x1="997.7" y1="777.72" x2="997.7" y2="1002.48" stroke="#000" stroke-width="2.9" stroke-linecap="butt"/>
<line x1="1005.2" y1="776.79" x2="1005.2" y2="1001.54" stroke="#000" stroke-width="2.9" stroke-linecap="butt"/>
<line x1="1012.5" y1="775.89" x2="1012.5" y2="1000.63" stroke="#000" stroke-width="2.9" stroke-linecap="butt"/>
<line x1="1020.5" y1="774.9" x2="1020.5" y2="999.64" stroke="#000" stroke-width="2.9" stroke-linecap="butt"/>
<line x1="1028.9" y1="773.87" x2="1028.9" y2="998.59" stroke="#000" stroke-width="2.9" stroke-linecap="butt"/>
<line x1="1039.4" y1="772.57" x2="1039.4" y2="997.28" stroke="#000" stroke-width="2.9" stroke-linecap="butt"/>
<line x1="1047.9" y1="771.52" x2="1047.9" y2="996.22" stroke="#000" stroke-width="2.9" stroke-linecap="butt"/>
<line x1="1056.4" y1="770.47" x2="1056.4" y2="995.17" stroke="#000" stroke-width="2.9" stroke-linecap="butt"/>
<line x1="1063.6" y1="769.58" x2="1063.6" y2="994.27" stroke="#000" stroke-width="2.9" stroke-linecap="butt"/>
<line x1="1070.4" y1="768.75" x2="1070.4" y2="993.42" stroke="#000" stroke-width="2.9" stroke-linecap="butt"/>
<line x1="1077.4" y1="767.88" x2="1077.4" y2="992.55" stroke="#000" stroke-width="2.9" stroke-linecap="butt"/>
<line x1="1083.7" y1="767.1" x2="1083.7" y2="991.76" stroke="#000" stroke-width="2.9" stroke-linecap="butt"/>
<line x1="1091.5" y1="766.14" x2="1091.5" y2="990.79" stroke="#000" stroke-width="2.9" stroke-linecap="butt"/>
<line x1="1098.5" y1="765.28" x2="1098.5" y2="989.92" stroke="#000" stroke-width="2.9" stroke-linecap="butt"/>
<line x1="1261.2" y1="745.2" x2="1261.2" y2="969.65" stroke="#000" stroke-width="2.9" stroke-linecap="butt"/>
<line x1="1268.3" y1="744.32" x2="1268.3" y2="968.77" stroke="#000" stroke-width="2.9" stroke-linecap="butt"/>
<line x1="1276.2" y1="743.35" x2="1276.2" y2="967.79" stroke="#000" stroke-width="2.9" stroke-linecap="butt"/>
<line x1="1282.3" y1="742.59" x2="1282.3" y2="967.03" stroke="#000" stroke-width="2.9" stroke-linecap="butt"/>
<line x1="1289.4" y1="741.72" x2="1289.4" y2="966.14" stroke="#000" stroke-width="2.9" stroke-linecap="butt"/>
<line x1="1296.4" y1="740.85" x2="1296.4" y2="965.27" stroke="#000" stroke-width="2.9" stroke-linecap="butt"/>
<line x1="1303.4" y1="739.99" x2="1303.4" y2="964.4" stroke="#000" stroke-width="2.9" stroke-linecap="butt"/>
<line x1="1311.9" y1="738.94" x2="1311.9" y2="963.34" stroke="#000" stroke-width="2.9" stroke-linecap="butt"/>
<line x1="1320.8" y1="737.84" x2="1320.8" y2="962.23" stroke="#000" stroke-width="2.9" stroke-linecap="butt"/>
<line x1="1331.1" y1="736.57" x2="1331.1" y2="960.95" stroke="#000" stroke-width="2.9" stroke-linecap="butt"/>
<line x1="1339.5" y1="735.53" x2="1339.5" y2="959.9" stroke="#000" stroke-width="2.9" stroke-linecap="butt"/>
<line x1="1347.5" y1="734.55" x2="1347.5" y2="958.9" stroke="#000" stroke-width="2.9" stroke-linecap="butt"/>
<line x1="1355" y1="733.62" x2="1355" y2="957.97" stroke="#000" stroke-width="2.9" stroke-linecap="butt"/>
<line x1="1362" y1="732.76" x2="1362" y2="957.1" stroke="#000" stroke-width="2.9" stroke-linecap="butt"/>
<line x1="1369" y1="731.89" x2="1369" y2="956.23" stroke="#000" stroke-width="2.9" stroke-linecap="butt"/>
<line x1="1375.6" y1="731.08" x2="1375.6" y2="955.4" stroke="#000" stroke-width="2.9" stroke-linecap="butt"/>
<line x1="1383.6" y1="730.09" x2="1383.6" y2="954.41" stroke="#000" stroke-width="2.9" stroke-linecap="butt"/>
<line x1="1390.6" y1="729.23" x2="1390.6" y2="953.53" stroke="#000" stroke-width="2.9" stroke-linecap="butt"/>
<path d="M881,937.7 L958.5,1010.9" fill="none" stroke="#000" stroke-width="6.8" stroke-linejoin="round" stroke-linecap="butt"/>
<path d="M880.8,946.4 L958.5,1021" fill="none" stroke="#000" stroke-width="4.6" stroke-linejoin="round" stroke-linecap="butt"/>
<path d="M958.5,1012.2 L1404,955.8" fill="none" stroke="#000" stroke-width="6.6" stroke-linejoin="round" stroke-linecap="butt"/>
<path d="M958.5,1020.4 L1404,964.7" fill="none" stroke="#000" stroke-width="4.4" stroke-linejoin="round" stroke-linecap="butt"/>
<line x1="880.8" y1="936" x2="880.8" y2="949" stroke="#000" stroke-width="4" stroke-linecap="butt"/>
<line x1="958.5" y1="1008" x2="958.5" y2="1022" stroke="#000" stroke-width="4" stroke-linecap="butt"/>
<line x1="1403.5" y1="952.5" x2="1403.5" y2="967" stroke="#000" stroke-width="4" stroke-linecap="butt"/>
<path d="M901.2,965.5 L901.2,1001 L905.8,1004.8 L917.7,1002.8 L917.7,984.5" fill="none" stroke="#000" stroke-width="4.2" stroke-linejoin="round" stroke-linecap="round"/>
<line x1="905.8" y1="970" x2="905.8" y2="1004.8" stroke="#000" stroke-width="4.2" stroke-linecap="butt"/>
<path d="M959.6,1021 L959.6,1055.9 L964.3,1060.3 L976.2,1058.6 L976.2,1018.5" fill="none" stroke="#000" stroke-width="4.2" stroke-linejoin="round" stroke-linecap="round"/>
<line x1="964.3" y1="1021" x2="964.3" y2="1060.3" stroke="#000" stroke-width="4.2" stroke-linecap="butt"/>
<path d="M1368.8,970.5 L1368.8,1005 L1373.4,1009.8 L1385.5,1008 L1385.5,968" fill="none" stroke="#000" stroke-width="4.2" stroke-linejoin="round" stroke-linecap="round"/>
<line x1="1373.4" y1="970.5" x2="1373.4" y2="1009.8" stroke="#000" stroke-width="4.2" stroke-linecap="butt"/>
<path d="M1352,970.5 L1389,967" fill="none" stroke="#000" stroke-width="3.6" stroke-linejoin="round" stroke-linecap="round"/>
</svg>
</body></html>
